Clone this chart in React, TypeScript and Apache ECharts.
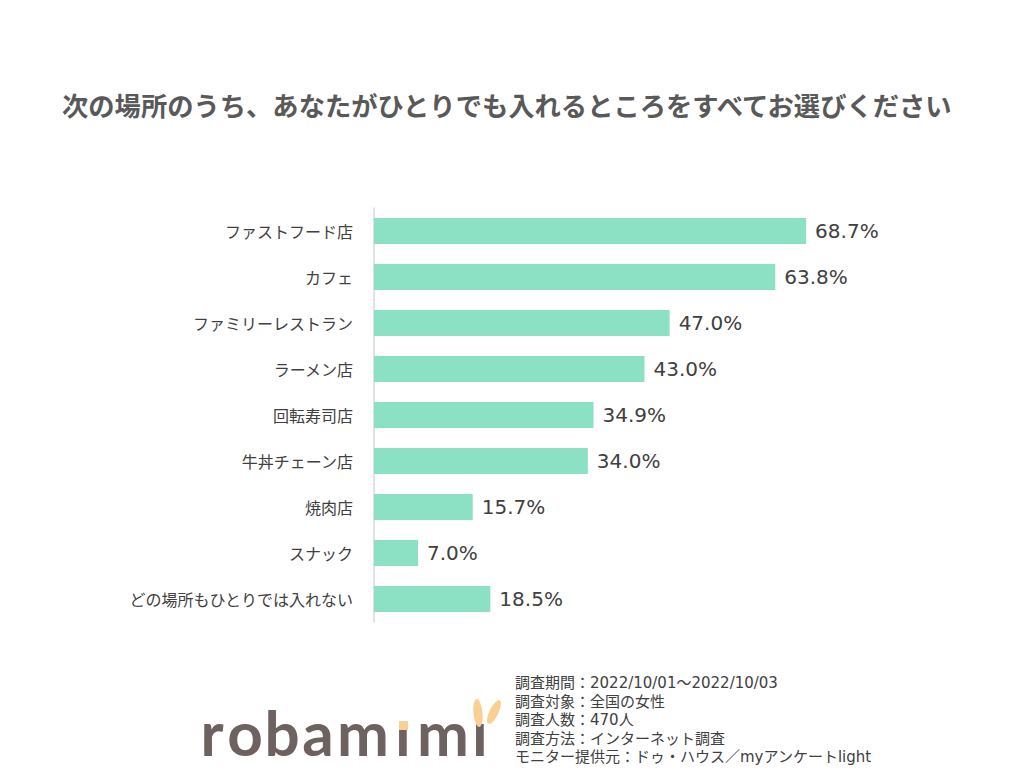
import React, { useEffect, useRef } from "react";
import * as echarts from "echarts";

const categories = [
  "ファストフード店",
  "カフェ",
  "ファミリーレストラン",
  "ラーメン店",
  "回転寿司店",
  "牛丼チェーン店",
  "焼肉店",
  "スナック",
  "どの場所もひとりでは入れない",
];
const values = [68.7, 63.8, 47.0, 43.0, 34.9, 34.0, 15.7, 7.0, 18.5];
const titleText = "次の場所のうち、あなたがひとりでも入れるところをすべてお選びください";
const notes = [
  "調査期間：2022/10/01～2022/10/03",
  "調査対象：全国の女性",
  "調査人数：470人",
  "調査方法：インターネット調査",
  "モニター提供元：ドゥ・ハウス／myアンケートlight",
];
const logoLetters = ["r", "o", "b", "a", "m", "ı", "m", "ı"];
const logoCenters = [212, 245, 282, 318, 363, 403, 443, 480];

const JP = "'Noto Sans CJK JP', sans-serif";
const NUM = "'DejaVu Sans', 'Noto Sans CJK JP', sans-serif";

export default function App() {
  const ref = useRef<HTMLDivElement>(null);
  useEffect(() => {
    document.body.style.margin = "0";
    const chart = echarts.init(ref.current!, undefined, { renderer: "svg" });
    const graphics: any[] = [
      {
        type: "text",
        left: 62,
        top: 91,
        style: {
          text: titleText,
          font: `bold 26.3px ${JP}`,
          fill: "#595959",
        },
      },
    ];
    notes.forEach((n, i) => {
      graphics.push({
        type: "text",
        x: 515,
        y: 683 + i * 18.6,
        style: {
          text: n,
          font: `15px ${NUM}`,
          fill: "#404040",
          textVerticalAlign: "middle",
        },
      });
    });
    logoLetters.forEach((l, i) => {
      graphics.push({
        type: "text",
        x: logoCenters[i],
        y: 763,
        style: {
          text: l,
          font: `bold 62px Lato, sans-serif`,
          fill: "#6d6260",
          textAlign: "center",
          textVerticalAlign: "bottom",
        },
      });
    });
    graphics.push({
      type: "rect",
      shape: { x: 399, y: 721, width: 9, height: 9 },
      style: { fill: "#f9cf94" },
    });
    graphics.push({
      type: "ellipse",
      x: 478,
      y: 713,
      rotation: 0.1,
      shape: { cx: 0, cy: 0, rx: 4.5, ry: 14 },
      style: { fill: "#f9cf94" },
    });
    graphics.push({
      type: "ellipse",
      x: 494,
      y: 712,
      rotation: -0.45,
      shape: { cx: 0, cy: 0, rx: 4.5, ry: 13 },
      style: { fill: "#f9cf94" },
    });

    chart.setOption({
      animation: false,
      grid: { left: 374, right: 21, top: 208, bottom: 155 },
      xAxis: {
        type: "value",
        min: 0,
        max: 100,
        show: false,
      },
      yAxis: {
        type: "category",
        data: categories,
        inverse: true,
        axisLine: { show: true, lineStyle: { color: "#d9d9d9", width: 1.5 } },
        axisTick: { show: false },
        axisLabel: {
          margin: 21,
          fontSize: 16,
          fontFamily: JP,
          color: "#404040",
        },
      },
      series: [
        {
          type: "bar",
          data: values,
          barWidth: "57%",
          itemStyle: { color: "#8ce0c4" },
          label: {
            show: true,
            position: "right",
            distance: 9,
            formatter: (p: any) => `${Number(p.value).toFixed(1)}%`,
            fontSize: 20,
            fontFamily: NUM,
            color: "#404040",
          },
        },
      ],
      graphic: graphics,
    });
    return () => chart.dispose();
  }, []);
  return <div ref={ref} style={{ width: 1024, height: 777 }} />;
}
